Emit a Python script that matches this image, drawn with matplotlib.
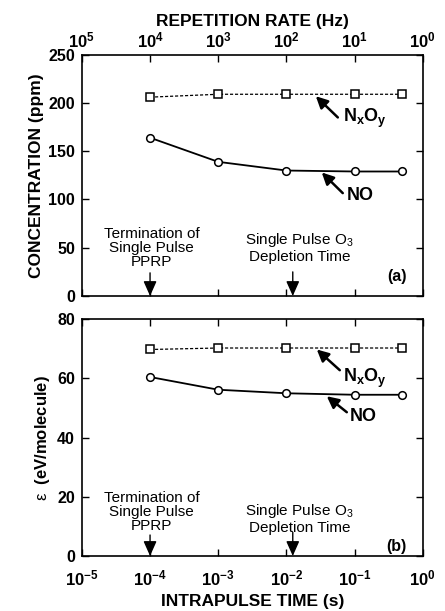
import matplotlib
matplotlib.use('Agg')
from matplotlib import pyplot as plt
from matplotlib.ticker import FixedLocator, NullLocator

plt.rcParams['font.family'] = ['Liberation Sans', 'DejaVu Sans']
plt.rcParams['mathtext.fontset'] = 'custom'
plt.rcParams['mathtext.rm'] = 'Liberation Sans'
plt.rcParams['mathtext.bf'] = 'Liberation Sans:bold'
plt.rcParams['mathtext.it'] = 'Liberation Sans:italic'

# intrapulse time (s) for each run
intrapulse_time = [1e-4, 1e-3, 1e-2, 1e-1, 0.5]

# (a) concentration, ppm
conc_nxoy = [206, 209, 209, 209, 209]
conc_no = [164, 139, 130, 129, 129]

# (b) energy cost, eV/molecule
eps_nxoy = [69.8, 70.3, 70.3, 70.3, 70.3]
eps_no = [60.5, 56.2, 55.0, 54.5, 54.5]

time_ticks = [1e-5, 1e-4, 1e-3, 1e-2, 1e-1, 1e0]
time_labels = [r'$\mathbf{10^{-5}}$', r'$\mathbf{10^{-4}}$', r'$\mathbf{10^{-3}}$',
               r'$\mathbf{10^{-2}}$', r'$\mathbf{10^{-1}}$', r'$\mathbf{10^{0}}$']
rate_labels = [r'$\mathbf{10^{5}}$', r'$\mathbf{10^{4}}$', r'$\mathbf{10^{3}}$',
               r'$\mathbf{10^{2}}$', r'$\mathbf{10^{1}}$', r'$\mathbf{10^{0}}$']

pprp_time = 1.0e-4
o3_depletion_time = 1.24e-2

fig = plt.figure(figsize=(4.45, 6.11), dpi=100)
ax1 = fig.add_axes([0.184, 0.5155, 0.766, 0.395])
ax2 = fig.add_axes([0.184, 0.09, 0.766, 0.3874])

label_font = dict(fontsize=12.5, fontweight='bold')
note_font = dict(fontsize=11)


def style_axes(ax, yticks, ylim):
    ax.set_xscale('log')
    ax.set_xlim(1e-5, 1e0)
    ax.set_ylim(*ylim)
    ax.xaxis.set_major_locator(FixedLocator(time_ticks))
    ax.xaxis.set_minor_locator(NullLocator())
    ax.set_yticks(yticks)
    ax.set_yticklabels([str(v) for v in yticks], fontsize=11.5, fontweight='bold')
    ax.tick_params(which='both', direction='in', length=5, width=1,
                   top=True, right=True, pad=5)
    for sp in ax.spines.values():
        sp.set_linewidth(1.2)


def plot_series(ax, nxoy, no):
    ax.plot(intrapulse_time, nxoy, linestyle=(0, (2.5, 1.5)), color='black', lw=0.9,
            marker='s', markersize=5.5, markerfacecolor='white',
            markeredgecolor='black', markeredgewidth=1.1)
    ax.plot(intrapulse_time, no, linestyle='-', color='black', lw=1.3,
            marker='o', markersize=5.5, markerfacecolor='white',
            markeredgecolor='black', markeredgewidth=1.1)


def pointer(ax, head, tail):
    ax.annotate('', xy=head, xytext=tail,
                arrowprops=dict(arrowstyle='-|>,head_length=0.7,head_width=0.35',
                                color='black', lw=1.8, shrinkA=0, shrinkB=0))


def event_marks(ax, y_text1, y_text2, y_arrow1, y_arrow2):
    ax.text(1.05e-4, y_text1, 'Termination of\nSingle Pulse\nPPRP', ha='center',
            va='center', linespacing=1.0, **note_font)
    ax.text(1.55e-2, y_text2, 'Single Pulse O$_3$\nDepletion Time', ha='center',
            va='center', linespacing=1.05, **note_font)
    for xt, ya in [(pprp_time, y_arrow1), (o3_depletion_time, y_arrow2)]:
        ax.annotate('', xy=(xt, 0), xytext=(xt, ya),
                    arrowprops=dict(arrowstyle='-|>,head_length=0.9,head_width=0.4',
                                    color='black', lw=1.0, shrinkA=0, shrinkB=0))


# (a) concentration
style_axes(ax1, [0, 50, 100, 150, 200, 250], (0, 250))
plot_series(ax1, conc_nxoy, conc_no)
ax1.tick_params(axis='x', labelbottom=False, labeltop=True, pad=3)
ax1.set_xticklabels(rate_labels, fontsize=12)
ax1.set_xlabel('REPETITION RATE (Hz)', labelpad=3, **label_font)
ax1.xaxis.set_label_position('top')
ax1.set_ylabel('CONCENTRATION (ppm)', labelpad=3, **label_font)
pointer(ax1, (0.027, 207), (0.0568, 185))
ax1.text(0.0671, 184, r'N$_\mathbf{x}$O$_\mathbf{y}$', ha='left', va='center',
         fontsize=13, fontweight='bold')
pointer(ax1, (0.033, 128), (0.0671, 106.6))
ax1.text(0.0769, 104.5, 'NO', ha='left', va='center', fontsize=13, fontweight='bold')
event_marks(ax1, 49.4, 50.4, 24, 25)
ax1.text(0.924, 0.08, '(a)', transform=ax1.transAxes, ha='center', va='center',
         fontsize=11.5, fontweight='bold')

# (b) energy cost per molecule
style_axes(ax2, [0, 20, 40, 60, 80], (0, 80))
plot_series(ax2, eps_nxoy, eps_no)
ax2.tick_params(axis='x', pad=9)
ax2.set_xticklabels(time_labels, fontsize=12)
ax2.set_xlabel('INTRAPULSE TIME (s)', labelpad=4, **label_font)
ax2.set_ylabel(r'$\mathrm{ε}$  $\mathbf{(eV/molecule)}$', labelpad=4, fontsize=12)
pointer(ax2, (0.0279, 69.8), (0.0607, 62.8))
ax2.text(0.0671, 60.1, r'N$_\mathbf{x}$O$_\mathbf{y}$', ha='left', va='center',
         fontsize=13, fontweight='bold')
pointer(ax2, (0.0391, 54.0), (0.0769, 48.6))
ax2.text(0.0851, 47, 'NO', ha='left', va='center', fontsize=13, fontweight='bold')
event_marks(ax2, 15, 12.7, 7.1, 8)
ax2.text(0.924, 0.039, '(b)', transform=ax2.transAxes, ha='center', va='center',
         fontsize=11.5, fontweight='bold')

fig.savefig('out.png', dpi=100)
